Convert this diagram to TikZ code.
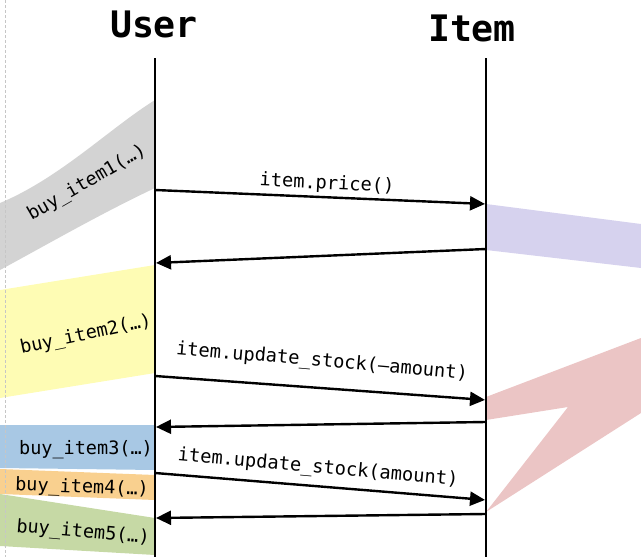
\documentclass[tikz,border=0pt]{standalone}
\usepackage{fontspec}
\setmonofont{DejaVu Sans Mono}
\usetikzlibrary{arrows.meta}
\definecolor{bandgray}{HTML}{D3D3D3}
\definecolor{bandyellow}{HTML}{FEFCB4}
\definecolor{bandblue}{HTML}{A8C8E4}
\definecolor{bandorange}{HTML}{F9D08F}
\definecolor{bandgreen}{HTML}{C6D9A5}
\definecolor{bandlavender}{HTML}{D6D2EE}
\definecolor{bandpink}{HTML}{EBC5C5}
\tikzset{
  head/.style={font=\ttfamily\bfseries\fontsize{36.5}{40}\selectfont, inner sep=0pt},
  lifeline/.style={line width=2.6pt, black},
  msg/.style={line width=2.4pt, black, -{Triangle[length=15pt,width=14pt]}, shorten >=1pt},
  msglabel/.style={font=\ttfamily\fontsize{18.7}{20}\selectfont, inner sep=0pt},
  bandlabel/.style={font=\ttfamily\fontsize{18.5}{20}\selectfont, inner sep=0pt},
}
\begin{document}
\begin{tikzpicture}[x=1pt,y=-1pt]
\useasboundingbox (0,0) rectangle (641,557);

% activity bands on the User side
\fill[bandgray] (0,203) .. controls (60,178) and (110,128) .. (155,100)
  -- (155,188) .. controls (100,214) and (50,243) .. (0,270) -- cycle;
\fill[bandyellow] (0,290) -- (155,265) -- (155,373) -- (0,398) -- cycle;
\fill[bandblue] (0,425) -- (155,425) -- (155,470) -- (0,468) -- cycle;
\fill[bandorange] (0,469) -- (155,475) -- (155,500) -- (0,494) -- cycle;
\fill[bandgreen] (0,494) -- (155,518) -- (155,555) -- (0,546) -- cycle;

% activity bands on the Item side
\fill[bandlavender] (486,204) -- (641,224) -- (641,268) -- (486,250) -- cycle;
\fill[bandpink] (486,397) -- (641,338) -- (641,413) -- (486,512)
  -- (568,407) -- (486,420) -- cycle;

% page edge marker
\draw[gray!45, line width=1pt, densely dashed] (5,0) -- (5,557);

% band labels
\node[bandlabel, rotate=30] (b1) at (87,183) {buy\_item1(…)};
\node[bandlabel, rotate=12] (b2) at (86,335) {buy\_item2(…)};
\node[bandlabel] (b3) at (86,450) {buy\_item3(…)};
\node[bandlabel, rotate=-2] (b4) at (82,488) {buy\_item4(…)};
\node[bandlabel, rotate=-5] (b5) at (83,533) {buy\_item5(…)};

% participants and lifelines
\node[head] (user) at (154,24) {User};
\node[head] (item) at (472,28) {Item};
\coordinate (utop) at (155,58);
\coordinate (ubot) at (155,557);
\coordinate (itop) at (486,58);
\coordinate (ibot) at (486,557);
\draw[lifeline] (utop) -- (ubot);
\draw[lifeline] (itop) -- (ibot);

% message end points
\coordinate (m1s) at (155,190);
\coordinate (m1e) at (486,204);
\coordinate (r1s) at (486,249);
\coordinate (r1e) at (155,263);
\coordinate (m2s) at (155,376);
\coordinate (m2e) at (486,400);
\coordinate (r2s) at (486,422);
\coordinate (r2e) at (155,427);
\coordinate (m3s) at (155,473);
\coordinate (m3e) at (486,500);
\coordinate (r3s) at (486,514);
\coordinate (r3e) at (155,518);

% messages
\draw[msg] (m1s) -- (m1e);
\draw[msg] (r1s) -- (r1e);
\draw[msg] (m2s) -- (m2e);
\draw[msg] (r2s) -- (r2e);
\draw[msg] (m3s) -- (m3e);
\draw[msg] (r3s) -- (r3e);

% message labels
\node[msglabel, rotate=-2.8] (l1) at (327,184) {item.price()};
\node[msglabel, rotate=-5] (l2) at (322,362) {item.update\_stock(–amount)};
\node[msglabel, rotate=-5] (l3) at (318,468) {item.update\_stock(amount)};
\end{tikzpicture}
\end{document}
